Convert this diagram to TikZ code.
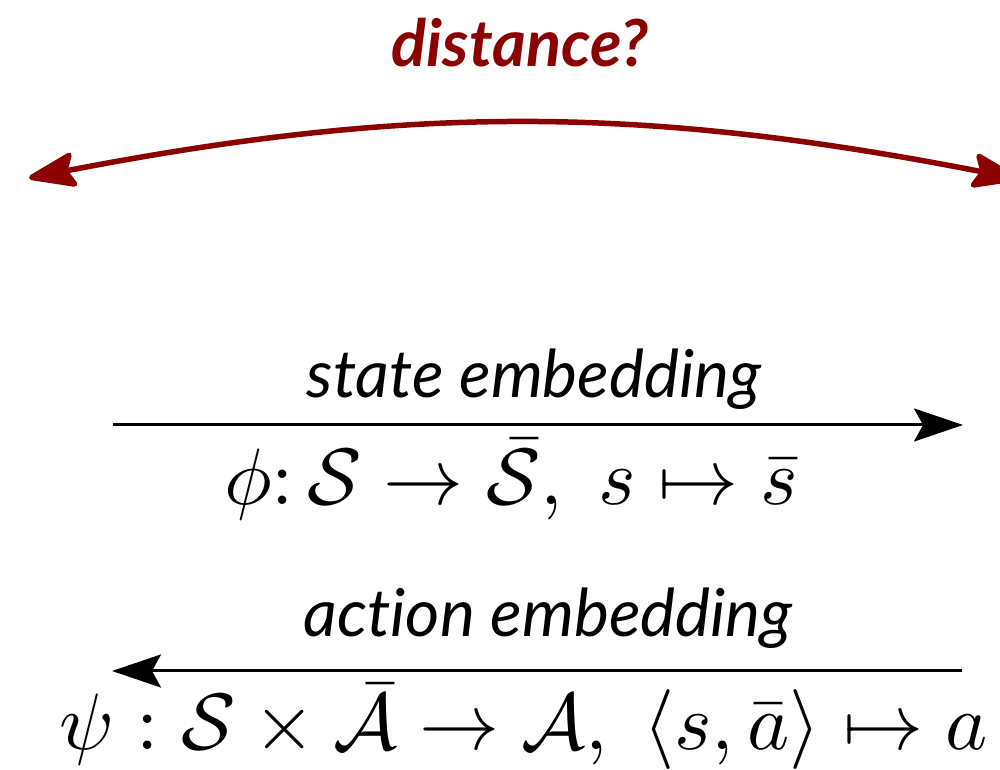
\documentclass[tikz,border=0pt]{standalone}
\usepackage{fontspec}
\newfontfamily\lato[Ligatures=NoCommon]{Lato}
\usetikzlibrary{arrows.meta}
\definecolor{dred}{HTML}{8B0000}
\tikzset{
  lbl/.style={font=\lato\itshape\fontsize{66}{78}\selectfont, inner sep=0pt, anchor=base},
  ttl/.style={font=\lato\bfseries\itshape\fontsize{65}{77}\selectfont, text=dred, inner sep=0pt, anchor=base},
  mth/.style={font=\fontsize{10}{12}\selectfont, inner sep=0pt, anchor=base, scale=8, transform shape},
  blk/.style={line width=3pt, -{Stealth[length=49pt,width=33pt,inset=9pt]}},
  redtip/.tip={Stealth[length=54pt,width=38pt,inset=9pt,round]},
  redarc/.style={draw=dred, line width=5.5pt, redtip-redtip}
}
\begin{document}
\begin{tikzpicture}[x=1pt,y=1pt]
  \useasboundingbox (0,0) rectangle (1000,770);
  % distance arc
  \coordinate (dL) at (29,592);
  \coordinate (dR) at (1019,591);
  \node[ttl] (dist) at (520,703) {distance?};
  \draw[redarc] (dL) to[bend left=11] (dR);
  % state embedding
  \coordinate (sA) at (113,345);
  \coordinate (sB) at (963,345);
  \draw[blk] (sA) -- (sB);
  \node[lbl] (stxt) at (534,372) {state embedding};
  \node[mth] (smath) at (511,265) {$\phi\colon \mathcal{S}\to\bar{\mathcal{S}},\; s\mapsto\bar{s}$};
  % action embedding
  \coordinate (aA) at (962,99);
  \coordinate (aB) at (112,99);
  \draw[blk] (aA) -- (aB);
  \node[lbl] (atxt) at (548,133) {action embedding};
  \node[mth, anchor=base west] (amath) at (58,20) {$\psi : \mathcal{S}\times\bar{\mathcal{A}}\to\mathcal{A},\; \langle s,\bar{a}\rangle\mapsto a$};
\end{tikzpicture}
\end{document}
